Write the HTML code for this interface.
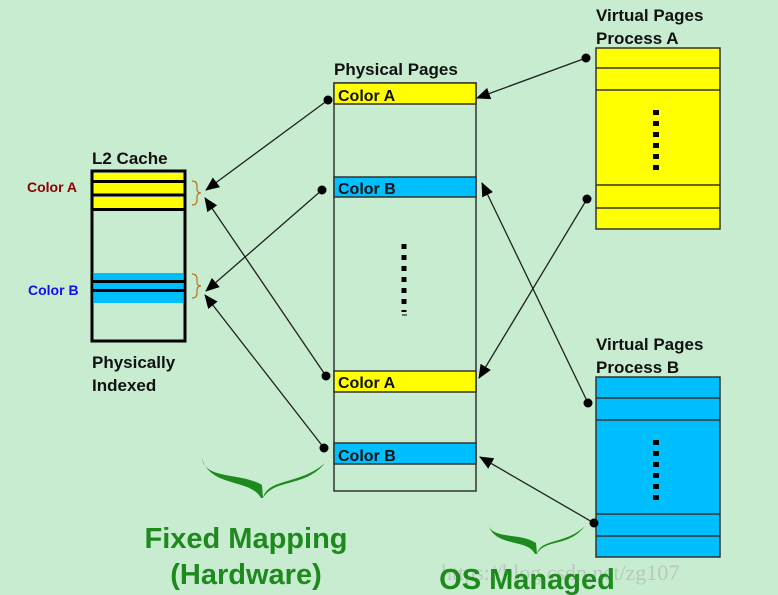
<!DOCTYPE html>
<html><head><meta charset="utf-8"><style>
html,body{margin:0;padding:0;background:#c8ecd0;}
svg{display:block;font-family:"Liberation Sans",sans-serif;font-weight:bold;}
</style></head><body>
<svg width="778" height="595" viewBox="0 0 778 595" xmlns="http://www.w3.org/2000/svg">
<defs>
<marker id="ar" markerWidth="14" markerHeight="12" refX="13" refY="6" orient="auto" markerUnits="userSpaceOnUse">
<path d="M0,0 L14,6 L0,12 Z" fill="#000"/></marker>
</defs>
<rect width="778" height="595" fill="#c8ecd0"/>

<!-- L2 cache -->
<text x="92" y="164" font-size="17" fill="#111">L2 Cache</text>
<rect x="92" y="171" width="93" height="170" fill="#c8ecd0" stroke="#000" stroke-width="3"/>
<rect x="94" y="173" width="89" height="7" fill="#ffff00"/>
<rect x="94" y="183" width="89" height="10" fill="#ffff00"/>
<rect x="94" y="197" width="89" height="11" fill="#ffff00"/>
<line x1="92" y1="181.5" x2="185" y2="181.5" stroke="#000" stroke-width="3"/>
<line x1="92" y1="195" x2="185" y2="195" stroke="#000" stroke-width="3"/>
<line x1="92" y1="209.5" x2="185" y2="209.5" stroke="#000" stroke-width="3"/>
<rect x="94" y="273" width="89" height="7" fill="#00bfff"/>
<rect x="94" y="283" width="89" height="6" fill="#00bfff"/>
<rect x="94" y="292" width="89" height="11" fill="#00bfff"/>
<line x1="92" y1="281.5" x2="185" y2="281.5" stroke="#000" stroke-width="3"/>
<line x1="92" y1="290.5" x2="185" y2="290.5" stroke="#000" stroke-width="3"/>
<text x="27" y="192" font-size="14" fill="#8b0000">Color A</text>
<text x="28" y="295" font-size="14" fill="#1010ee">Color B</text>
<path d="M192,181 q5,0 5,5 v3 q0,4 4,4 q-4,0 -4,4 v3 q0,5 -5,5" fill="none" stroke="#c07020" stroke-width="1.2"/>
<path d="M192,274 q5,0 5,5 v3 q0,4 4,4 q-4,0 -4,4 v3 q0,5 -5,5" fill="none" stroke="#c07020" stroke-width="1.2"/>
<text x="92" y="368" font-size="17" fill="#111">Physically</text>
<text x="92" y="391" font-size="17" fill="#111">Indexed</text>

<!-- Physical pages -->
<text x="334" y="75" font-size="17" fill="#111">Physical Pages</text>
<rect x="334" y="83" width="142" height="408" fill="#c8ecd0" stroke="#333" stroke-width="1.5"/>
<rect x="334" y="83" width="142" height="21" fill="#ffff00" stroke="#333" stroke-width="1.5"/>
<rect x="334" y="177" width="142" height="20" fill="#00bfff" stroke="#333" stroke-width="1.5"/>
<rect x="334" y="371" width="142" height="21" fill="#ffff00" stroke="#333" stroke-width="1.5"/>
<rect x="334" y="443" width="142" height="21" fill="#00bfff" stroke="#333" stroke-width="1.5"/>
<text x="338" y="101" font-size="16" fill="#111">Color A</text>
<text x="338" y="194" font-size="16" fill="#111">Color B</text>
<text x="338" y="388" font-size="16" fill="#111">Color A</text>
<text x="338" y="461" font-size="16" fill="#111">Color B</text>
<line x1="404" y1="244" x2="404" y2="312" stroke="#000" stroke-width="5" stroke-dasharray="5,6"/>
<line x1="402" y1="315" x2="407" y2="315" stroke="#000" stroke-width="1"/>

<!-- Virtual A -->
<text x="596" y="21" font-size="17" fill="#111">Virtual Pages</text>
<text x="596" y="44" font-size="17" fill="#111">Process A</text>
<rect x="596" y="48" width="124" height="181" fill="#ffff00" stroke="#333" stroke-width="1.5"/>
<line x1="596" y1="68" x2="720" y2="68" stroke="#333" stroke-width="1.5"/>
<line x1="596" y1="90" x2="720" y2="90" stroke="#333" stroke-width="1.5"/>
<line x1="596" y1="185" x2="720" y2="185" stroke="#333" stroke-width="1.5"/>
<line x1="596" y1="208" x2="720" y2="208" stroke="#333" stroke-width="1.5"/>
<line x1="656" y1="110" x2="656" y2="175" stroke="#000" stroke-width="6" stroke-dasharray="5,6"/>

<!-- Virtual B -->
<text x="596" y="350" font-size="17" fill="#111">Virtual Pages</text>
<text x="596" y="373" font-size="17" fill="#111">Process B</text>
<rect x="596" y="377" width="124" height="180" fill="#00bfff" stroke="#333" stroke-width="1.5"/>
<line x1="596" y1="398" x2="720" y2="398" stroke="#333" stroke-width="1.5"/>
<line x1="596" y1="420" x2="720" y2="420" stroke="#333" stroke-width="1.5"/>
<line x1="596" y1="514" x2="720" y2="514" stroke="#333" stroke-width="1.5"/>
<line x1="596" y1="536" x2="720" y2="536" stroke="#333" stroke-width="1.5"/>
<line x1="656" y1="440" x2="656" y2="505" stroke="#000" stroke-width="6" stroke-dasharray="5,6"/>

<!-- connectors -->
<g stroke="#222" stroke-width="1.3" fill="none" marker-end="url(#ar)">
<line x1="328" y1="100" x2="206" y2="190"/>
<line x1="322" y1="190" x2="206" y2="291"/>
<line x1="326" y1="376" x2="205" y2="198"/>
<line x1="324" y1="448" x2="205" y2="295"/>
<line x1="586" y1="58" x2="477" y2="98"/>
<line x1="587" y1="199" x2="479" y2="378"/>
<line x1="588" y1="403" x2="482" y2="183"/>
<line x1="594" y1="523" x2="480" y2="457"/>
</g>
<g fill="#000">
<circle cx="328" cy="100" r="4.5"/><circle cx="322" cy="190" r="4.5"/>
<circle cx="326" cy="376" r="4.5"/><circle cx="324" cy="448" r="4.5"/>
<circle cx="586" cy="58" r="4.5"/><circle cx="587" cy="199" r="4.5"/>
<circle cx="588" cy="403" r="4.5"/><circle cx="594" cy="523" r="4.5"/>
</g>

<!-- green braces -->
<path d="M202,458 C205,480 240,472 262,485 L263,498 C268,478 300,485 325,463 C305,488 275,478 263,498 L261,498 C250,478 210,488 202,458 Z" fill="#1e8a1e"/>
<path d="M488,524 C492,540 520,532 536,543 L537,554 C541,538 565,545 585,526 C568,548 546,538 537,554 L535,554 C527,538 495,548 488,524 Z" fill="#1e8a1e"/>

<text x="441" y="580" font-size="22" font-weight="normal" fill="#b8c8bc" font-family="'Liberation Serif',serif">https://blog.csdn.net/zg107</text>
<text x="246" y="548" font-size="29" fill="#1e8a1e" text-anchor="middle">Fixed Mapping</text>
<text x="246" y="584" font-size="29" fill="#1e8a1e" text-anchor="middle">(Hardware)</text>
<text x="527" y="589" font-size="29" fill="#1e8a1e" text-anchor="middle">OS Managed</text>
</svg>
</body></html>
